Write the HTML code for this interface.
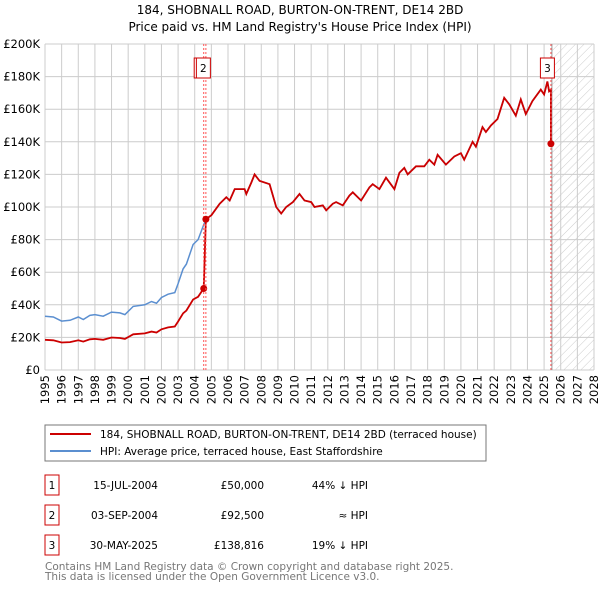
<!DOCTYPE html>
<html><head><meta charset="utf-8"><style>
body{margin:0;background:#fff;font-family:"DejaVu Sans","Liberation Sans",sans-serif;}
svg text{font-family:"DejaVu Sans","Liberation Sans",sans-serif;}
</style></head><body>
<svg id="c" width="600" height="590" xmlns="http://www.w3.org/2000/svg">
<defs><pattern id="hatch" width="6" height="6" patternUnits="userSpaceOnUse" patternTransform="rotate(45)"><line x1="0" y1="0" x2="0" y2="6" stroke="#ccc" stroke-width="1"/></pattern></defs>
<text x="300" y="14" text-anchor="middle" font-size="12">184, SHOBNALL ROAD, BURTON-ON-TRENT, DE14 2BD</text>
<text x="300" y="31" text-anchor="middle" font-size="12">Price paid vs. HM Land Registry's House Price Index (HPI)</text>
<g id="grid"></g><g id="series"></g><g id="marks"></g>
<rect x="45" y="425" width="441" height="36" fill="#fff" stroke="#777"/>
<line x1="50" y1="434" x2="91" y2="434" stroke="#cc0000" stroke-width="2"/>
<text x="100" y="438" font-size="10.5">184, SHOBNALL ROAD, BURTON-ON-TRENT, DE14 2BD (terraced house)</text>
<line x1="50" y1="451" x2="91" y2="451" stroke="#5b8fd0" stroke-width="2"/>
<text x="100" y="455" font-size="10.5">HPI: Average price, terraced house, East Staffordshire</text>
<g id="table" font-size="10.5"></g>
<text x="45" y="570" font-size="10.5" fill="#777">Contains HM Land Registry data © Crown copyright and database right 2025.</text>
<text x="45" y="580" font-size="10.5" fill="#777">This data is licensed under the Open Government Licence v3.0.</text>
</svg>
<script>
const hpiYears=[1995,1995.5,1996,1996.5,1997,1997.3,1997.7,1998,1998.5,1999,1999.5,1999.8,2000.3,2001,2001.4,2001.7,2002,2002.4,2002.8,2003,2003.3,2003.5,2003.9,2004.2,2004.5,2004.67,2005,2005.5,2005.9,2006.1,2006.4,2007,2007.1,2007.4,2007.6,2007.9,2008.5,2008.9,2009.2,2009.5,2009.9,2010.3,2010.6,2011,2011.2,2011.7,2011.9,2012.3,2012.5,2012.9,2013.3,2013.5,2014,2014.5,2014.7,2015.1,2015.5,2016,2016.3,2016.6,2016.8,2017.3,2017.8,2018.1,2018.4,2018.6,2019.1,2019.6,2020,2020.2,2020.7,2020.9,2021.3,2021.5,2021.8,2022.2,2022.6,2022.9,2023.3,2023.6,2023.9,2024.1,2024.3,2024.8,2025,2025.2,2025.3,2025.41];
const hpiValues=[33,32.5,30,30.5,32.5,31,33.5,34,33,35.5,35,34,39,40,42,41,44.5,46.5,47.5,53,62,65,77,80,88,92.5,95,102,106,104,111,111,108,115,120,116,114,100,96,100,103,108,104,103,100,101,98,102,103,101,107,109,104,112,114,111,118,111,121,124,120,125,125,129,126,132,126,131,133,129,140,137,149,146,150,154,167,163,156,166,157,161,165,172,169,177,171,172];
const saleYears=[2004.54,2004.67,2025.41];
const saleValues=[50,92.5,138.816];
const saleLabels=['1','2','3'];
const saleDates=['15-JUL-2004','03-SEP-2004','30-MAY-2025'];
const salePrices=['£50,000','£92,500','£138,816'];
const saleRel=['44% ↓ HPI','≈ HPI','19% ↓ HPI'];
const yTicks=[0,20,40,60,80,100,120,140,160,180,200];
const xTicks=[];for(let y=1995;y<=2028;y++)xTicks.push(y);
const X=y=>45+(y-1995)*(549/33), Y=v=>370-v*1.63;
const NS='http://www.w3.org/2000/svg';
function mk(p,t,a){const e=document.createElementNS(NS,t);for(const k in a)e.setAttribute(k,a[k]);p.appendChild(e);return e;}
const g=document.getElementById('grid'),s=document.getElementById('series'),m=document.getElementById('marks');
let hb=mk(g,'rect',{x:X(2025.47),y:Y(200),width:X(2028)-X(2025.47),height:Y(0)-Y(200),fill:'url(#hatch)'});


yTicks.forEach(v=>{let l=mk(g,'line',{x1:45,x2:594,y1:Y(v),y2:Y(v),stroke:'#ccc'});


let t=mk(g,'text',{x:40,y:Y(v)+4,'text-anchor':'end','font-size':11.5});t.textContent=v?'£'+v+'K':'£0';

});
xTicks.forEach(yr=>{let l=mk(g,'line',{x1:X(yr),x2:X(yr),y1:Y(200),y2:Y(0),stroke:'#ccc'});


let t=mk(g,'text',{x:0,y:0,'text-anchor':'end','font-size':11.5,transform:`translate(${X(yr)+4},375) rotate(-90)`});t.textContent=yr;

});
let nl=mk(g,'line',{x1:X(2025.47),x2:X(2025.47),y1:Y(200),y2:Y(0),stroke:'#999'});


function hpiAt(y){for(let i=1;i<hpiYears.length;i++)if(hpiYears[i]>=y){const f=(y-hpiYears[i-1])/(hpiYears[i]-hpiYears[i-1]);return hpiValues[i-1]+f*(hpiValues[i]-hpiValues[i-1]);}return hpiValues[hpiValues.length-1];}
let bp=hpiYears.map((y,i)=>X(y).toFixed(1)+','+Y(hpiValues[i]).toFixed(1)).join(' ');
let bl=mk(s,'polyline',{points:bp,fill:'none',stroke:'#5b8fd0','stroke-width':1.5});


let rp=[];
for(let i=0;i<hpiYears.length;i++){const y=hpiYears[i];if(y<saleYears[0])rp.push([y,hpiValues[i]*saleValues[0]/hpiAt(saleYears[0])]);}
rp.push([saleYears[0],saleValues[0]]);rp.push([saleYears[1],saleValues[1]]);
for(let i=0;i<hpiYears.length;i++){const y=hpiYears[i];if(y>saleYears[1]&&y<saleYears[2])rp.push([y,hpiValues[i]*saleValues[1]/hpiAt(saleYears[1])]);}
rp.push([saleYears[2],hpiAt(saleYears[2])*saleValues[1]/hpiAt(saleYears[1])]);
rp.push([saleYears[2],saleValues[2]]);
let rl=mk(s,'polyline',{points:rp.map(p=>X(p[0]).toFixed(1)+','+Y(p[1]).toFixed(1)).join(' '),fill:'none',stroke:'#cc0000','stroke-width':1.8});


const boxX=[-2.5,-2.5,-3.5];
saleYears.forEach((y,i)=>{let l=mk(m,'line',{x1:X(y),x2:X(y),y1:Y(200),y2:Y(0),stroke:'#f55','stroke-dasharray':'2,2'});


let c=mk(m,'circle',{cx:X(y),cy:Y(saleValues[i]),r:3.5,fill:'#cc0000'});

});
saleYears.forEach((y,i)=>{
const bx=X(y)+boxX[i]-7;
let r=mk(m,'rect',{x:bx,y:58,width:14,height:20,fill:'#fff',stroke:'#cc0000'});


let t=mk(m,'text',{x:bx+7,y:72,'text-anchor':'middle','font-size':10.5});t.textContent=saleLabels[i];

});
const tb=document.getElementById('table');
saleLabels.forEach((lab,i)=>{const yy=483+i*30;
let r=mk(tb,'rect',{x:45,y:yy-8,width:14,height:20,fill:'#fff',stroke:'#cc0000'});


let t0=mk(tb,'text',{x:52,y:yy+6,'text-anchor':'middle'});t0.textContent=lab;


let t1=mk(tb,'text',{x:158,y:yy+6,'text-anchor':'end'});t1.textContent=saleDates[i];


let t2=mk(tb,'text',{x:264,y:yy+6,'text-anchor':'end'});t2.textContent=salePrices[i];


let t3=mk(tb,'text',{x:368,y:yy+6,'text-anchor':'end'});t3.textContent=saleRel[i];

});
</script>
</body></html>
